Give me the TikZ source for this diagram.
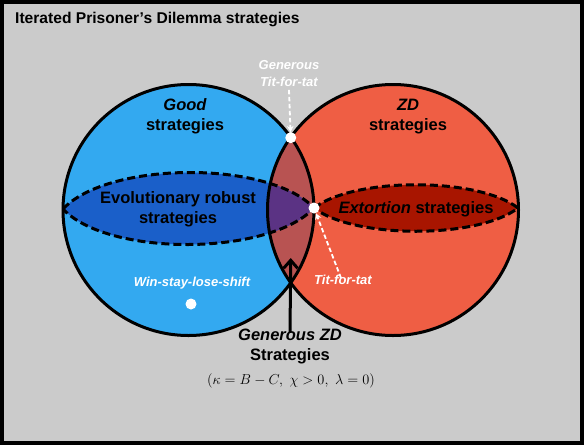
\documentclass[tikz,border=0pt]{standalone}
\usepackage{fontspec}
\setmainfont{Liberation Sans}
\usetikzlibrary{arrows.meta}
\definecolor{bggray}{HTML}{CBCBCB}
\definecolor{goodblue}{HTML}{33A9F0}
\definecolor{zdred}{HTML}{EF5E44}
\definecolor{lensred}{HTML}{B85352}
\definecolor{evoblue}{HTML}{1A5FC9}
\definecolor{purp}{HTML}{5B3384}
\definecolor{extred}{HTML}{A81500}
\begin{document}
\begin{tikzpicture}[x=1pt,y=-1pt,
  outline/.style={line width=3pt,black},
  dashline/.style={line width=3pt,black,dash pattern=on 8pt off 4pt},
  whitedot/.style={circle,fill=white,draw=none,minimum size=11pt,inner sep=0pt},
  biglabel/.style={font=\fontsize{16.5}{20}\selectfont\bfseries,align=center,inner sep=0pt,text=black},
  smalllabel/.style={font=\fontsize{13}{17}\selectfont\bfseries\itshape,align=center,inner sep=0pt,text=white},
  whitearrow/.style={white,line width=1.8pt,dash pattern=on 4.5pt off 2.5pt,-{Stealth[length=6pt,width=6.5pt]}},
  blackarrow/.style={black,line width=3pt,-{Straight Barb[length=8pt,width=14pt]}}]
\path[use as bounding box] (0,0) rectangle (584,445);
\fill[bggray] (0,0) rectangle (584,445);
\draw[line width=4pt] (2,2) rectangle (582,443);
\def\blueC{(188.5,210) circle[radius=125.5pt]}
\def\redC{(393,210) circle[radius=125.5pt]}
\def\evoP{(63,209) .. controls (108,161) and (269,160) .. (314,208) .. controls (269,256) and (108,257) .. (63,209) -- cycle}
\def\extP{(314,208) .. controls (354,177) and (478,177) .. (518,208) .. controls (478,239) and (354,239) .. (314,208) -- cycle}
% fills
\fill[goodblue] \blueC;
\fill[zdred] \redC;
\begin{scope}
  \clip \blueC;
  \fill[lensred] \redC;
\end{scope}
\fill[evoblue] \evoP;
\begin{scope}
  \clip \evoP;
  \fill[purp] \redC;
\end{scope}
\fill[extred] \extP;
% outlines
\draw[dashline] \evoP;
\draw[dashline] \extP;
\draw[outline] \blueC;
\draw[outline] \redC;
% title
\node[anchor=west,inner sep=0pt,font=\fontsize{15.6}{18}\selectfont\bfseries] (title) at (15,19) {Iterated Prisoner’s Dilemma strategies};
% labels
\node[biglabel] (good) at (185,116.5) {{\itshape Good}\\strategies};
\node[biglabel] (zd) at (408,116.5) {{\itshape ZD}\\strategies};
\node[biglabel] (evo) at (178,209.5) {Evolutionary robust\\strategies};
\node[biglabel] (ext) at (416,209) {{\itshape Extortion} strategies};
\node[biglabel] (gzd) at (290,346.5) {{\itshape Generous ZD}\\Strategies};
\node[inner sep=0pt,font=\fontsize{15.5}{18}\selectfont] (formula) at (291,381) {$\left(\kappa = B - C,\ \chi > 0,\ \lambda = 0\right)$};
% dots
\node[whitedot] (gtft) at (290.75,137.7) {};
\node[whitedot] (tft) at (314,208) {};
\node[whitedot] (wsls) at (191,304) {};
% white labels
\node[smalllabel] (gtftlbl) at (289,73.5) {Generous\\Tit-for-tat};
\node[smalllabel] (tftlbl) at (343,280) {Tit-for-tat};
\node[smalllabel] (wslslbl) at (192,283) {Win-stay-lose-shift};
% arrows
\draw[whitearrow] ([yshift=-3pt]gtftlbl.south) -- (gtft);
\draw[whitearrow] ([xshift=-2pt,yshift=-3pt]tftlbl.north) -- (tft);
\coordinate (gzdtip) at (290.75,258);
\draw[blackarrow] ([yshift=-4pt]gzd.north) -- (gzdtip);
\end{tikzpicture}
\end{document}
